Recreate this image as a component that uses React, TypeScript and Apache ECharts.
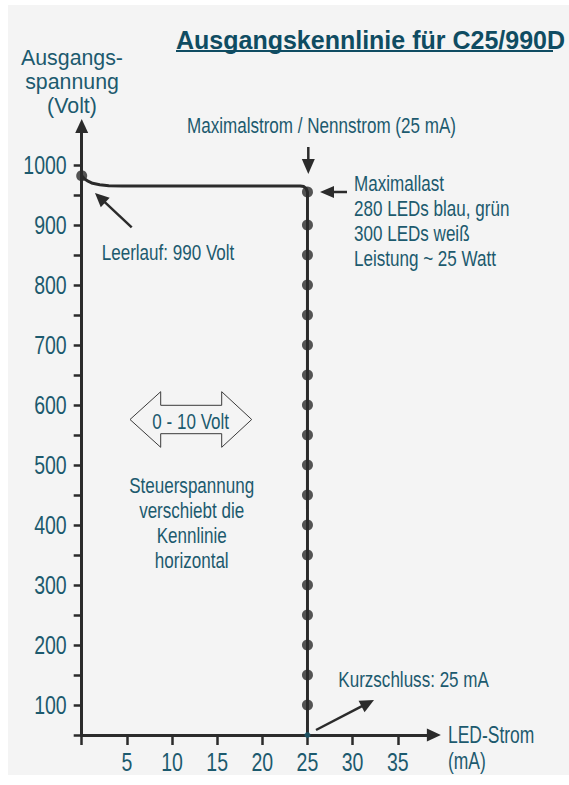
import React, { useEffect, useRef } from "react";
import * as echarts from "echarts";

// ---- data ----
const curveCurrent = [0, 0.3, 0.7, 1.2, 2, 3, 4.5, 7, 24.2, 24.6, 24.85, 25, 25];
const curveVoltage = [982, 977, 973, 969.5, 967, 965.5, 965, 965, 965, 964, 961, 955, 50];
const idlePoint = [0, 982];
const loadCurrent = 25;
const loadDotVoltages = [955, 900, 850, 800, 750, 700, 650, 600, 550, 500, 450, 400, 350, 300, 250, 200, 150, 100];
const shortCircuitPoint = [25, 50];
const xTickValues = [0, 5, 10, 15, 20, 25, 30, 35];
const xLabelValues = [5, 10, 15, 20, 25, 30, 35];
const yTickValues = [50, 100, 150, 200, 250, 300, 350, 400, 450, 500, 550, 600, 650, 700, 750, 800, 850, 900, 950, 1000];
const yLabelValues = [100, 200, 300, 400, 500, 600, 700, 800, 900, 1000];

const FONT = "'Liberation Sans', Arial, Helvetica, sans-serif";
const TEAL = "#1c5a6e";
const TITLE = "#0f4c62";
const INK = "#2b2b2b";
const BG = "#f4f4f4";
const NARROW = 0.775;

function arrow(x1: number, y1: number, x2: number, y2: number, headLen: number, headW: number, width = 2.5) {
  const dx = x2 - x1;
  const dy = y2 - y1;
  const len = Math.sqrt(dx * dx + dy * dy);
  const ux = dx / len;
  const uy = dy / len;
  const bx = x2 - ux * headLen;
  const by = y2 - uy * headLen;
  const px = -uy * headW / 2;
  const py = ux * headW / 2;
  return [
    {
      type: "line",
      silent: true,
      z: 10,
      shape: { x1, y1, x2: bx + ux * 1, y2: by + uy * 1 },
      style: { stroke: INK, lineWidth: width },
    },
    {
      type: "polygon",
      silent: true,
      z: 10,
      shape: { points: [[x2, y2], [bx + px, by + py], [bx - px, by - py]] },
      style: { fill: INK },
    },
  ];
}

function txt(x: number, y: number, text: string, opts: any = {}) {
  return {
    type: "text",
    silent: true,
    z: 10,
    x,
    y,
    scaleX: opts.scaleX === undefined ? NARROW : opts.scaleX,
    style: {
      text,
      fill: opts.fill || TEAL,
      font: opts.font || `22px ${FONT}`,
      textAlign: opts.align || "left",
      textVerticalAlign: "middle",
      lineHeight: opts.lineHeight || 25,
    },
  };
}

export default function App() {
  const ref = useRef<HTMLDivElement>(null);
  useEffect(() => {
    if (!ref.current) return;
    const chart = echarts.init(ref.current, undefined, { renderer: "svg" });
    const line = curveCurrent.map((c, i) => [c, curveVoltage[i]]);
    const dots = loadDotVoltages.map((v) => [loadCurrent, v]);
    const option: any = {
      animation: false,
      textStyle: { fontFamily: FONT },
      grid: { left: 81.7, top: 126, width: 352.2, height: 609 },
      xAxis: {
        type: "value",
        min: 0,
        max: 39,
        splitLine: { show: false },
        axisLine: {
          show: true,
          onZero: false,
          lineStyle: { color: INK, width: 3 },
          symbol: ["none", "triangle"],
          symbolSize: [13, 14],
        },
        axisTick: { show: true, inside: false, length: 10, lineStyle: { color: INK, width: 2.5 }, customValues: xTickValues },
        axisLabel: { show: false },
      },
      yAxis: {
        type: "value",
        min: 50,
        max: 1065,
        splitLine: { show: false },
        axisLine: {
          show: true,
          onZero: false,
          lineStyle: { color: INK, width: 3 },
          symbol: ["none", "triangle"],
          symbolSize: [13, 14],
        },
        axisTick: { show: true, inside: false, length: 8, lineStyle: { color: INK, width: 2.5 }, customValues: yTickValues },
        axisLabel: { show: false },
      },
      series: [
        {
          type: "line",
          data: line,
          showSymbol: false,
          symbol: "none",
          lineStyle: { color: INK, width: 3 },
          z: 3,
        },
        {
          type: "scatter",
          data: [idlePoint, ...dots],
          symbolSize: 11,
          itemStyle: { color: INK },
          z: 4,
        },
        {
          type: "scatter",
          data: [shortCircuitPoint],
          symbolSize: 6,
          itemStyle: { color: TEAL },
          z: 5,
        },
      ],
    };
    chart.setOption(option);

    // tick labels, placed through the axes' own scales (condensed type as in the original)
    const origin = chart.convertToPixel({ gridIndex: 0 }, [0, 50]) as number[];
    const yLabels = yLabelValues.map((v) => {
      const p = chart.convertToPixel({ gridIndex: 0 }, [0, v]) as number[];
      return txt(origin[0] - 15, p[1] + 0.5, String(v), { align: "right", font: `25px ${FONT}`, scaleX: 0.78 });
    });
    const xLabels = xLabelValues.map((v) => {
      const p = chart.convertToPixel({ gridIndex: 0 }, [v, 50]) as number[];
      return txt(p[0], origin[1] + 28, String(v), { align: "center", font: `25px ${FONT}`, scaleX: 0.78 });
    });

    chart.setOption({
      graphic: [
        { type: "rect", silent: true, z: -100, shape: { x: 8, y: 5, width: 561, height: 770 }, style: { fill: BG } },
        txt(176, 40, "Ausgangskennlinie für C25/990D", { fill: TITLE, font: `bold 25px ${FONT}`, scaleX: 1 }),
        { type: "line", silent: true, z: 10, shape: { x1: 176, y1: 51, x2: 553, y2: 51 }, style: { stroke: TITLE, lineWidth: 2 } },
        txt(72, 81, "Ausgangs-\nspannung\n(Volt)", { align: "center", lineHeight: 24, font: `22px ${FONT}`, scaleX: 0.97 }),
        txt(187, 125, "Maximalstrom / Nennstrom (25 mA)"),
        ...arrow(308.3, 147, 308.3, 174, 15, 13),
        ...arrow(347, 192, 320, 192, 14, 12),
        ...arrow(131.7, 227.3, 95, 193, 14, 13),
        ...arrow(316, 730, 374, 700, 14, 13),
        txt(354, 220.8, "Maximallast\n280 LEDs blau, grün\n300 LEDs weiß\nLeistung ~ 25 Watt"),
        txt(101.7, 251.7, "Leerlauf: 990 Volt"),
        txt(338.3, 679, "Kurzschluss: 25 mA"),
        txt(448, 748, "LED-Strom\n(mA)", { lineHeight: 26.7, font: `23px ${FONT}`, scaleX: 0.76 }),
        {
          type: "polygon",
          silent: true,
          z: 10,
          shape: {
            points: [
              [130, 419.5], [160.7, 391.7], [160.7, 405.3], [221.7, 405.3], [221.7, 391.7],
              [251.7, 419.5], [221.7, 447.3], [221.7, 433.7], [160.7, 433.7], [160.7, 447.3],
            ],
          },
          style: { fill: BG, stroke: "#3a3a3a", lineWidth: 1 },
        },
        txt(190.7, 420.7, "0 - 10 Volt", { align: "center" }),
        txt(191.7, 522.5, "Steuerspannung\nverschiebt die\nKennlinie\nhorizontal", { align: "center" }),
        ...yLabels,
        ...xLabels,
      ],
    });
    return () => chart.dispose();
  }, []);
  return (
    <div
      ref={ref}
      style={{ position: "fixed", left: 0, top: 0, width: 569, height: 785, background: "#ffffff" }}
    />
  );
}
